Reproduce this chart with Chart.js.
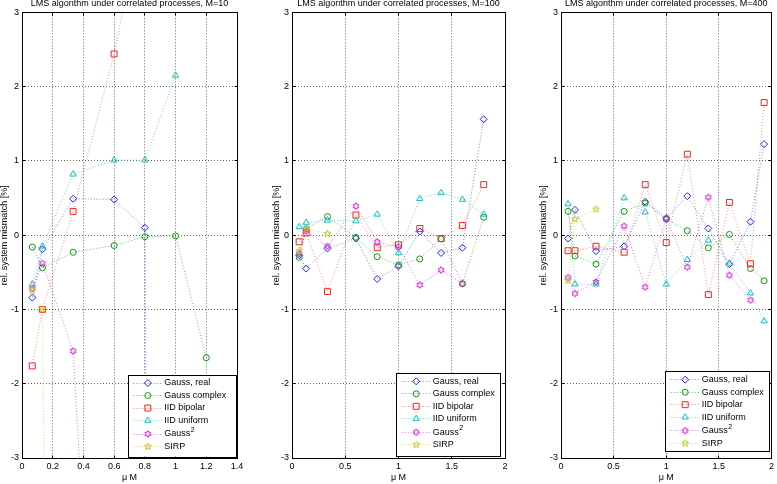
<!DOCTYPE html>
<html>
<head>
<meta charset="utf-8">
<script src="https://cdn.jsdelivr.net/npm/chart.js@4.4.1/dist/chart.umd.min.js"></script>
<style>
  html, body { margin: 0; padding: 0; background: #fff; }
  #wrap { position: relative; width: 777px; height: 484px; overflow: hidden; }
  #wrap canvas { position: absolute; left: 0; top: 0; }
</style>
</head>
<body>
<div id="wrap">
  <canvas id="chartM10" width="777" height="484"></canvas>
  <canvas id="chartM100" width="777" height="484"></canvas>
  <canvas id="chartM400" width="777" height="484"></canvas>
</div>
<script>
// mu*M values that were simulated for each filter length
var muM10 = [0.067, 0.133, 0.333, 0.6, 0.8, 1.0, 1.2];
var muM100 = [0.067, 0.133, 0.333, 0.6, 0.8, 1.0, 1.2, 1.4, 1.6, 1.8];
var muM400 = [0.067, 0.133, 0.333, 0.6, 0.8, 1.0, 1.2, 1.4, 1.6, 1.8, 1.93];

var seriesNames = ['Gauss, real', 'Gauss complex', 'IID bipolar', 'IID uniform', 'Gauss^2', 'SIRP'];

// M = 10 (some points blow up far outside the plotted range)
var gaussReal10 = [-0.84, -0.19, 0.49, 0.48, 0.10, -60];
var gaussComplex10 = [-0.16, -0.44, -0.23, -0.14, -0.02, -0.01, -1.65];
var iidBipolar10 = [-1.76, -1.0, 0.32, 2.44, 4.5];
var iidUniform10 = [-0.66, -0.15, 0.82, 1.01, 1.01, 2.15];
var gaussSq10 = [-0.72, -0.38, -1.56, -11.2];
var sirp10 = [-0.74, -1.0, -40];

// M = 100
var gaussReal100 = [-0.27, -0.45, -0.18, -0.045, -0.59, -0.42, 0.05, -0.24, -0.17, 1.56];
var gaussComplex100 = [-0.30, 0.085, 0.25, -0.03, -0.29, -0.40, -0.32, -0.05, -0.655, 0.24];
var iidBipolar100 = [-0.09, 0.03, -0.76, 0.27, -0.17, -0.13, 0.09, -0.045, 0.13, 0.68];
var iidUniform100 = [0.11, 0.17, 0.20, 0.19, 0.28, -0.24, 0.49, 0.57, 0.48, 0.28];
var gaussSq100 = [-0.25, 0.06, -0.15, 0.39, -0.09, -0.16, -0.67, -0.47, -0.65];
var sirp100 = [-0.21, 0.085, 0.02];

// M = 400
var gaussReal400 = [-0.045, 0.34, -0.215, -0.15, 0.45, 0.23, 0.525, 0.09, -0.39, 0.18, 1.225];
var gaussComplex400 = [0.32, -0.28, -0.39, 0.32, 0.43, 0.215, 0.06, -0.17, 0.01, -0.45, -0.615];
var iidBipolar400 = [-0.21, -0.21, -0.15, -0.23, 0.68, -0.10, 1.09, -0.80, 0.44, -0.385, 1.785];
var iidUniform400 = [0.42, -0.66, -0.66, 0.50, 0.31, -0.66, -0.33, -0.07, -0.38, -0.78, -1.157];
var gaussSq400 = [-0.57, -0.785, -0.63, 0.12, -0.70, 0.22, -0.43, 0.51, -0.54, -0.875];
var sirp400 = [-0.61, 0.215, 0.35];

// tick labels
var xTicks10 = [0, 0.2, 0.4, 0.6, 0.8, 1, 1.2, 1.4];
var xTicks100 = [0, 0.5, 1, 1.5, 2];
var yTicks = [-3, -2, -1, 0, 1, 2, 3];

var FONT = '"Liberation Sans", Arial, Helvetica, sans-serif';
var colors = ['#2020ff', '#119911', '#ff2020', '#10c0c0', '#cc22cc', '#c0c020'];
var lineColors = ['rgba(40,40,255,0.6)', 'rgba(0,140,0,0.6)', 'rgba(255,40,40,0.55)',
    'rgba(0,190,190,0.6)', 'rgba(200,0,200,0.55)', 'rgba(190,190,0,0.6)'];
var GRID = 'rgba(0,0,0,0.6)';

// hexagram / pentagram markers as small canvases
function makeStar(color, n, outer, inner) {
    var size = Math.ceil(outer * 2 + 3);
    var c = document.createElement('canvas');
    c.width = size;
    c.height = size;
    var g = c.getContext('2d');
    var cx = size / 2, cy = size / 2;
    g.beginPath();
    for (var i = 0; i < n * 2; i++) {
        var r = i % 2 === 0 ? outer : inner;
        var a = -Math.PI / 2 + i * Math.PI / n;
        var px = cx + r * Math.cos(a), py = cy + r * Math.sin(a);
        if (i === 0) g.moveTo(px, py); else g.lineTo(px, py);
    }
    g.closePath();
    g.strokeStyle = color;
    g.lineWidth = 1;
    g.stroke();
    return c;
}

var markers = ['rectRot', 'circle', 'rect', 'triangle',
    makeStar(colors[4], 6, 3.3, 1.9), makeStar(colors[5], 5, 3.6, 1.5)];
var markerRadius = [3.5, 3, 4.2, 3.6, 3, 3];

function pts(xs, ys) {
    return ys.map(function (y, i) { return { x: xs[i], y: y }; });
}

function alignPx(p) {
    return Math.round(p - 0.5) + 0.5;
}

// axes box with inward tick marks, like the MATLAB axes
var framePlugin = {
    id: 'matlabFrame',
    afterDatasetsDraw: function (chart) {
        var ctx = chart.ctx, a = chart.chartArea;
        var xs = chart.scales.x, ys = chart.scales.y;
        var l = alignPx(a.left), r = alignPx(a.right), t = alignPx(a.top), b = alignPx(a.bottom);
        ctx.save();
        ctx.strokeStyle = '#000';
        ctx.lineWidth = 1;
        ctx.setLineDash([]);
        ctx.beginPath();
        xs.ticks.forEach(function (tk) {
            var p = alignPx(xs.getPixelForValue(tk.value));
            ctx.moveTo(p, b); ctx.lineTo(p, b - 3);
            ctx.moveTo(p, t); ctx.lineTo(p, t + 3);
        });
        ys.ticks.forEach(function (tk) {
            var p = alignPx(ys.getPixelForValue(tk.value));
            ctx.moveTo(l, p); ctx.lineTo(l + 3, p);
            ctx.moveTo(r, p); ctx.lineTo(r - 3, p);
        });
        ctx.stroke();
        ctx.strokeRect(l, t, r - l, b - t);
        ctx.restore();
    }
};

var legendRows = [8, 20.5, 33, 45.5, 59, 71.5];

var legendPlugin = {
    id: 'matlabLegend',
    afterDraw: function (chart, args, opts) {
        var ctx = chart.ctx, b = opts.box;
        ctx.save();
        ctx.fillStyle = '#fff';
        ctx.fillRect(b.x, b.y, b.w, b.h);
        ctx.strokeStyle = '#000';
        ctx.lineWidth = 1;
        ctx.strokeRect(alignPx(b.x), alignPx(b.y), Math.round(b.w), Math.round(b.h));
        chart.data.datasets.forEach(function (ds, i) {
            var y = b.y + legendRows[i];
            ctx.strokeStyle = ds.borderColor;
            ctx.setLineDash([1, 2]);
            ctx.beginPath();
            ctx.moveTo(b.x + 5, alignPx(y));
            ctx.lineTo(b.x + 33, alignPx(y));
            ctx.stroke();
            ctx.setLineDash([]);
            ctx.strokeStyle = ds.pointBorderColor;
            ctx.fillStyle = 'rgba(0,0,0,0)';
            Chart.helpers.drawPoint(ctx, {
                pointStyle: ds.pointStyle, radius: ds.pointRadius,
                borderWidth: 1, rotation: 0
            }, b.x + 19.5, y);
            ctx.fillStyle = '#000';
            ctx.font = '9px ' + FONT;
            ctx.textBaseline = 'middle';
            ctx.textAlign = 'left';
            var parts = ds.label.split('^');
            ctx.fillText(parts[0], b.x + 36, y);
            if (parts[1]) {
                var w = ctx.measureText(parts[0]).width;
                ctx.font = '7px ' + FONT;
                ctx.fillText(parts[1], b.x + 36 + w + 0.5, y - 4);
            }
        });
        ctx.restore();
    }
};

var panels = [
    {
        id: 'chartM10', title: 'LMS algorithm under correlated processes, M=10',
        xs: muM10, ys: [gaussReal10, gaussComplex10, iidBipolar10, iidUniform10, gaussSq10, sirp10],
        xMax: 1.4, xTicks: xTicks10, padLeft: 0, yWidth: 22, padRight: 540,
        legendBox: { x: 128.3, y: 375, w: 108.4, h: 81.7 }
    },
    {
        id: 'chartM100', title: 'LMS algorithm under correlated processes, M=100',
        xs: muM100, ys: [gaussReal100, gaussComplex100, iidBipolar100, iidUniform100, gaussSq100, sirp100],
        xMax: 2, xTicks: xTicks100, padLeft: 272, yWidth: 20, padRight: 272,
        legendBox: { x: 396.7, y: 373.3, w: 104, h: 83.4 }
    },
    {
        id: 'chartM400', title: 'LMS algorithm under correlated processes, M=400',
        xs: muM400, ys: [gaussReal400, gaussComplex400, iidBipolar400, iidUniform400, gaussSq400, sirp400],
        xMax: 2, xTicks: xTicks100, padLeft: 539.5, yWidth: 21.5, padRight: 3,
        legendBox: { x: 665.7, y: 371.7, w: 104, h: 80 }
    }
];

var tickFont = { family: FONT, size: 9 };

panels.forEach(function (p) {
    var datasets = p.ys.map(function (ys, i) {
        return {
            label: seriesNames[i],
            data: pts(p.xs, ys),
            order: p.ys.length - 1 - i,
            borderColor: lineColors[i],
            backgroundColor: 'rgba(0,0,0,0)',
            borderWidth: 1,
            borderDash: [1, 2],
            fill: false,
            tension: 0,
            pointStyle: markers[i],
            pointRadius: markerRadius[i],
            pointBorderWidth: 1,
            pointBorderColor: colors[i],
            pointBackgroundColor: 'rgba(0,0,0,0)'
        };
    });

    new Chart(document.getElementById(p.id).getContext('2d'), {
        type: 'line',
        data: { datasets: datasets },
        plugins: [framePlugin, legendPlugin],
        options: {
            animation: false,
            responsive: false,
            devicePixelRatio: 1,
            events: [],
            layout: { padding: { left: p.padLeft, right: p.padRight, top: 0, bottom: 0 } },
            plugins: {
                legend: { display: false },
                tooltip: { enabled: false },
                title: {
                    display: true, text: p.title, fullSize: false, color: '#000',
                    font: { family: FONT, size: 9, weight: 'normal', lineHeight: 1.2 },
                    padding: { top: -1.4, bottom: 2.9 }
                },
                matlabLegend: { box: p.legendBox }
            },
            scales: {
                x: {
                    type: 'linear', min: 0, max: p.xMax,
                    afterBuildTicks: function (s) { s.ticks = p.xTicks.map(function (v) { return { value: v }; }); },
                    afterFit: function (s) { s.height = 26; },
                    ticks: {
                        padding: 3, color: '#000', font: tickFont, maxRotation: 0, autoSkip: false,
                        callback: function (v) { return String(v); }
                    },
                    grid: { color: GRID, lineWidth: 1, drawTicks: false },
                    border: { display: false, dash: [1, 2] },
                    title: {
                        display: true, text: 'μ M', color: '#000', padding: 0,
                        font: { family: FONT, size: 9, lineHeight: 1.55 }
                    }
                },
                y: {
                    type: 'linear', min: -3, max: 3,
                    afterBuildTicks: function (s) { s.ticks = yTicks.map(function (v) { return { value: v }; }); },
                    afterFit: function (s) { s.width = p.yWidth; },
                    ticks: {
                        padding: 3, color: '#000', font: tickFont,
                        callback: function (v) { return String(v); }
                    },
                    grid: { color: GRID, lineWidth: 1, drawTicks: false },
                    border: { display: false, dash: [1, 2] },
                    title: {
                        display: true, text: 'rel. system mismatch [%]', color: '#000', padding: 0,
                        font: { family: FONT, size: 9, lineHeight: 1 }
                    }
                }
            }
        }
    });
});
</script>
</body>
</html>
